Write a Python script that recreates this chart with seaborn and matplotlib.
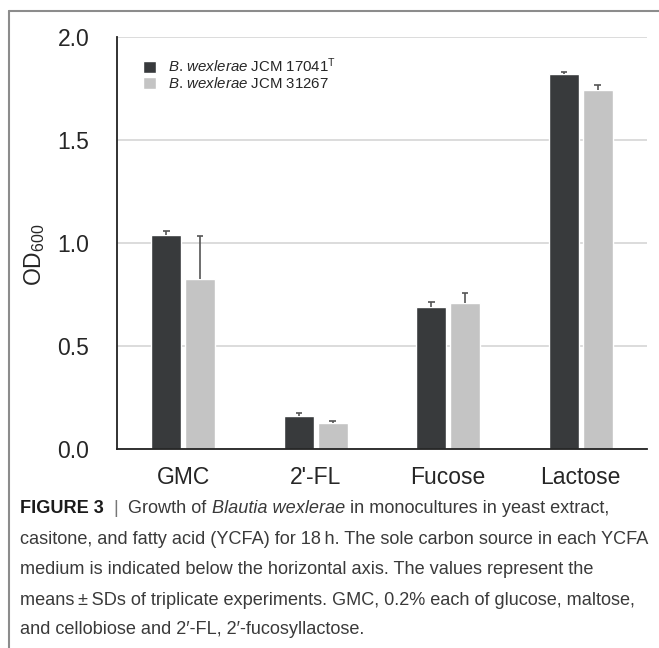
import pandas as pd
import matplotlib
matplotlib.use('Agg')
import matplotlib.pyplot as plt
from matplotlib import font_manager
from matplotlib.lines import Line2D
import seaborn as sns

# Growth data (OD600 after 18 h, mean and SD)
carbon = ['GMC', "2'-FL", 'Fucose', 'Lactose']
od_17041 = [1.04, 0.158, 0.688, 1.82]
sd_17041 = [0.018, 0.018, 0.027, 0.011]
od_31267 = [0.825, 0.126, 0.707, 1.744]
sd_31267 = [0.21, 0.008, 0.049, 0.021]
strains = [r'$\mathit{B.}\,\mathit{wexlerae}$ JCM 17041$^{\mathrm{T}}$',
           r'$\mathit{B.}\,\mathit{wexlerae}$ JCM 31267']

caption = [
    [('FIGURE 3', 'bold', 'normal'), ('  |  ', 'normal', 'normal'),
     ('Growth of ', 'normal', 'normal'), ('Blautia wexlerae', 'normal', 'italic'),
     (' in monocultures in yeast extract,', 'normal', 'normal')],
    [('casitone, and fatty acid (YCFA) for 18\u2009h. The sole carbon source in each YCFA', 'normal', 'normal')],
    [('medium is indicated below the horizontal axis. The values represent the', 'normal', 'normal')],
    [('means\u2009\u00b1\u2009SDs of triplicate experiments. GMC, 0.2% each of glucose, maltose,', 'normal', 'normal')],
    [('and cellobiose and 2\u2032-FL, 2\u2032-fucosyllactose.', 'normal', 'normal')],
]

df = pd.DataFrame({
    'carbon': carbon * 2,
    'od': od_17041 + od_31267,
    'strain': [strains[0]] * 4 + [strains[1]] * 4,
})

sns.set_style('white')
plt.rcParams['font.family'] = ['Liberation Sans', 'DejaVu Sans']
plt.rcParams['mathtext.fontset'] = 'custom'
plt.rcParams['mathtext.rm'] = 'Liberation Sans'
plt.rcParams['mathtext.it'] = 'Liberation Sans:italic'
plt.rcParams['mathtext.bf'] = 'Liberation Sans:bold'

W, H = 659, 648
fig = plt.figure(figsize=(W / 100, H / 100), dpi=100)
ax = fig.add_axes([117 / W, 1 - 449 / H, 530 / W, 412 / H])

sns.barplot(data=df, x='carbon', y='od', hue='strain', order=carbon,
            hue_order=strains, palette=['#373a3d', '#c4c4c4'],
            width=0.51, gap=0.12, errorbar=None, ax=ax)

# one-sided SD error bars (upper half only)
cap = 0.024
for cont, sds in zip(ax.containers, [sd_17041, sd_31267]):
    xs = [b.get_x() + b.get_width() / 2 for b in cont]
    ys = [b.get_height() for b in cont]
    tops = [y + s for y, s in zip(ys, sds)]
    ax.vlines(xs, ys, tops, color='#555555', linewidth=1.2, zorder=3)
    ax.hlines(tops, [x - cap for x in xs], [x + cap for x in xs],
              color='#555555', linewidth=1.2, zorder=3)

ax.set_ylim(0, 2.0)
ax.set_xlim(-0.5, 3.5)
ax.set_yticks([0, 0.5, 1.0, 1.5, 2.0])
ax.set_yticklabels(['0.0', '0.5', '1.0', '1.5', '2.0'])
ax.yaxis.grid(True, color='#d9d9d9', linewidth=1.3)
ax.set_axisbelow(True)
ax.tick_params(axis='y', length=7, width=1.2, color='#222222', labelsize=16.5, pad=13)
ax.tick_params(axis='x', length=0, labelsize=16.5, pad=12)
for s in ['top', 'right']:
    ax.spines[s].set_visible(False)
for s in ['left', 'bottom']:
    ax.spines[s].set_color('#222222')
    ax.spines[s].set_linewidth(1.3)
ax.set_xlabel('')
ax.set_ylabel('')
fig.text(35 / W, 1 - 255 / H, r'OD$_{600}$', rotation=90, ha='center', va='center', fontsize=16.5)

sns.move_legend(ax, 'upper left', bbox_to_anchor=(0.049, 0.952), title=None,
                frameon=False, fontsize=10.8, handlelength=0.9, handleheight=0.9,
                handletextpad=0.8, labelspacing=0.05, borderpad=0, borderaxespad=0)

# figure frame
fig.add_artist(Line2D([8.5 / W, 1.0], [1 - 10.5 / H] * 2, color='#8c8c8c', lw=1.5))
fig.add_artist(Line2D([8.5 / W] * 2, [0, 1 - 10.5 / H], color='#8c8c8c', lw=1.5))

# caption
names = {f.name for f in font_manager.fontManager.ttflist}
cap_family = 'Liberation Sans Narrow' if 'Liberation Sans Narrow' in names else 'Liberation Sans'
renderer = fig.canvas.get_renderer()


def seg_width(s, size, weight, style):
    def w(txt):
        t = fig.text(0, 0, txt, fontsize=size, family=cap_family, weight=weight, style=style)
        e = t.get_window_extent(renderer).width
        t.remove()
        return e
    return w('x' + s + 'x') - w('xx')


size = 10.0
size = min(14.0, size * 630 / seg_width(caption[1][0][0], size, 'normal', 'normal'))

baselines = [513, 544, 574, 605, 634]
for line, yb in zip(caption, baselines):
    x = 20.0
    for txt, weight, style in line:
        col = '#1a1a1a' if weight == 'bold' else '#3a3a3a'
        if txt.strip() == '|':
            col = '#777777'
        fig.text(x / W, 1 - yb / H, txt, fontsize=size, family=cap_family,
                 weight=weight, style=style, color=col, va='baseline', ha='left')
        x += seg_width(txt, size, weight, style)

fig.savefig('out.png', dpi=100)
